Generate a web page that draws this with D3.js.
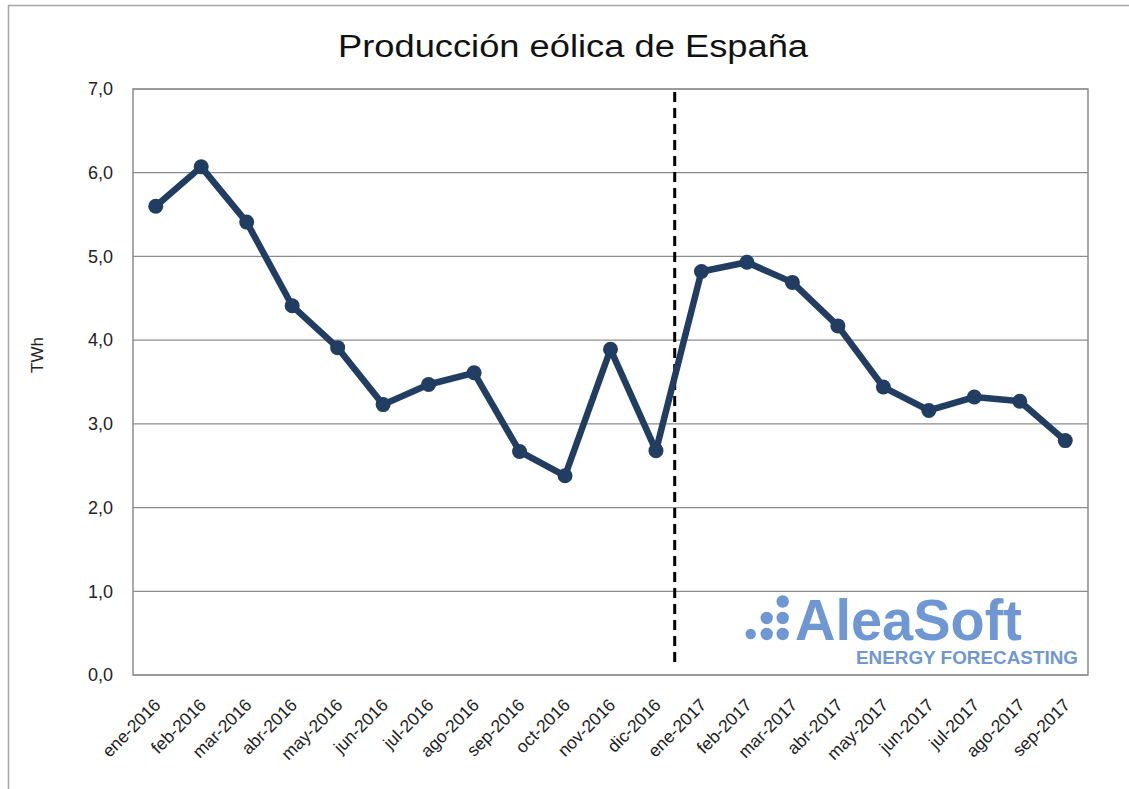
<!DOCTYPE html>
<html>
<head>
<meta charset="utf-8">
<script src="https://cdnjs.cloudflare.com/ajax/libs/d3/7.8.5/d3.min.js"></script>
<style>
  body { margin: 0; background: #fff; }
  svg { display: block; font-family: "Liberation Sans", Arial, sans-serif; }
</style>
</head>
<body>
<svg class="line-chart" width="1129" height="789"></svg>
<script>
// Chart data
const months = ['ene-2016', 'feb-2016', 'mar-2016', 'abr-2016', 'may-2016', 'jun-2016', 'jul-2016',
    'ago-2016', 'sep-2016', 'oct-2016', 'nov-2016', 'dic-2016', 'ene-2017', 'feb-2017', 'mar-2017',
    'abr-2017', 'may-2017', 'jun-2017', 'jul-2017', 'ago-2017', 'sep-2017'];
const values = [5.60, 6.07, 5.41, 4.41, 3.91, 3.23, 3.47, 3.61, 2.67, 2.38, 3.89, 2.68,
    4.82, 4.93, 4.69, 4.17, 3.44, 3.16, 3.32, 3.27, 2.80];
const yTicks = [0, 1, 2, 3, 4, 5, 6, 7];
const splitAfter = 'dic-2016';

const svg = d3.select('.line-chart');

// Outer frame
svg.append('rect')
    .attr('x', 8.5).attr('y', 5.5)
    .attr('width', 1140).attr('height', 800)
    .attr('fill', 'none')
    .attr('stroke', '#a6a6a6')
    .attr('stroke-width', 1.5);

const margin = { top: 89, left: 133 };
const width = 1088 - 133;
const height = 675 - 89;

const xScale = d3.scaleBand()
    .domain(months)
    .range([0, width]);

const yScale = d3.scaleLinear()
    .domain([0, 7])
    .range([height, 0]);

const g = svg.append('g')
    .attr('transform', `translate(${margin.left}, ${margin.top})`);

// Gridlines
g.append('g')
    .selectAll('line')
    .data(yTicks)
    .join('line')
    .attr('x1', 0).attr('x2', width)
    .attr('y1', d => yScale(d)).attr('y2', d => yScale(d))
    .attr('stroke', '#8c8c8c')
    .attr('stroke-width', 1.2);

// Plot border
g.append('rect')
    .attr('width', width).attr('height', height)
    .attr('fill', 'none')
    .attr('stroke', '#8c8c8c')
    .attr('stroke-width', 1.5);

// Y axis labels
const yAxis = g.append('g')
    .call(d3.axisLeft(yScale).tickValues(yTicks).tickSize(0).tickPadding(20)
        .tickFormat(d => d3.format('.1f')(d).replace('.', ',')));
yAxis.select('.domain').remove();
yAxis.selectAll('text')
    .attr('font-size', 18)
    .attr('font-family', '"Liberation Sans", Arial, sans-serif')
    .attr('fill', '#222');

// X axis labels
const xAxis = g.append('g')
    .attr('transform', `translate(0, ${height})`)
    .call(d3.axisBottom(xScale).tickSize(0).tickPadding(0));
xAxis.select('.domain').remove();
xAxis.selectAll('text')
    .attr('font-size', 17.5)
    .attr('font-family', '"Liberation Sans", Arial, sans-serif')
    .attr('fill', '#222')
    .attr('text-anchor', 'end')
    .attr('dy', 0)
    .attr('transform', 'translate(6, 31) rotate(-45)');

// Y axis title
svg.append('text')
    .attr('transform', 'translate(43, 355) rotate(-90)')
    .attr('text-anchor', 'middle')
    .attr('font-size', 17)
    .attr('fill', '#222')
    .text('TWh');

// Title
svg.append('text')
    .attr('x', 573).attr('y', 57)
    .attr('text-anchor', 'middle')
    .attr('font-size', 31)
    .attr('textLength', 470)
    .attr('lengthAdjust', 'spacingAndGlyphs')
    .attr('fill', '#111')
    .text('Producción eólica de España');

// Logo
const logoColor = '#6f97d3';
const dots = [[782.7, 601.5], [766.7, 618], [782.7, 618], [750.7, 634], [766.7, 634], [782.7, 634]];
svg.append('g')
    .selectAll('circle')
    .data(dots)
    .join('circle')
    .attr('cx', d => d[0]).attr('cy', d => d[1])
    .attr('r', (d, i) => i === 3 ? 5.2 : 6.2)
    .attr('fill', logoColor);
svg.append('text')
    .attr('x', 795).attr('y', 640)
    .attr('font-size', 57)
    .attr('font-weight', 'bold')
    .attr('fill', logoColor)
    .attr('textLength', 227)
    .attr('lengthAdjust', 'spacingAndGlyphs')
    .text('AleaSoft');
svg.append('text')
    .attr('x', 1078).attr('y', 664)
    .attr('text-anchor', 'end')
    .attr('font-size', 18)
    .attr('font-weight', 'bold')
    .attr('fill', logoColor)
    .attr('textLength', 222)
    .attr('lengthAdjust', 'spacingAndGlyphs')
    .text('ENERGY FORECASTING');

// Separator between years
const splitX = xScale(splitAfter) + xScale.bandwidth() - 4;
g.append('line')
    .attr('x1', splitX).attr('x2', splitX)
    .attr('y1', 3).attr('y2', height - 8)
    .attr('stroke', '#000')
    .attr('stroke-width', 3)
    .attr('stroke-dasharray', '10,6');

// Line + markers
const data = months.map((m, i) => ({ month: m, value: values[i] }));
const line = d3.line()
    .x(d => xScale(d.month) + xScale.bandwidth() / 2)
    .y(d => yScale(d.value));

g.append('path')
    .datum(data)
    .attr('fill', 'none')
    .attr('stroke', '#213d62')
    .attr('stroke-width', 6.5)
    .attr('stroke-linejoin', 'round')
    .attr('d', line);

g.append('g')
    .selectAll('circle')
    .data(data)
    .join('circle')
    .attr('cx', d => xScale(d.month) + xScale.bandwidth() / 2)
    .attr('cy', d => yScale(d.value))
    .attr('r', 7.5)
    .attr('fill', '#213d62');
</script>
</body>
</html>
